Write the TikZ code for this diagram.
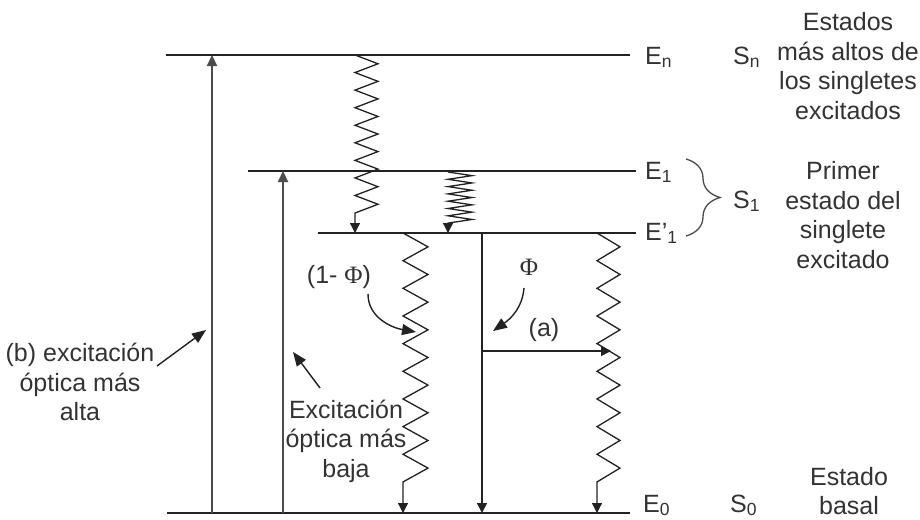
\documentclass[tikz,border=0pt]{standalone}
\usepackage{fontspec}
\setmainfont{Liberation Sans}
\newfontfamily\phifont{Liberation Serif}
\usetikzlibrary{arrows.meta,decorations.pathreplacing}
\definecolor{lc}{HTML}{222222}
\definecolor{tc}{HTML}{333333}
\newcommand{\myphi}{{\phifont\fontsize{25}{25}\selectfont Φ}}
\begin{document}
\begin{tikzpicture}[x=1pt,y=-1pt,
  level/.style={line width=1.8pt, draw=lc},
  exc/.style={line width=2.2pt, draw=black!70, -{Triangle[length=11pt,width=10pt]}},
  zz/.style={line width=1.3pt, draw=lc, -{Triangle[length=10pt,width=10pt]}},
  drop/.style={line width=1.6pt, draw=lc, -{Triangle[length=10pt,width=10pt]}},
  lbl/.style={font=\fontsize{25}{29.5}\selectfont, text=tc, inner sep=0pt, align=center},
  elbl/.style={font=\fontsize{25}{29.5}\selectfont, text=tc, inner sep=0pt, anchor=base west},
  ptr/.style={line width=1.4pt, draw=lc, -{Triangle[length=14pt,width=11pt]}},
  philbl/.style={text=tc, inner sep=0pt},
]
\path[use as bounding box, fill=white] (0,0) rectangle (920,519);

% energy levels
\coordinate (EnL) at (166,55);  \coordinate (EnR) at (630,55);
\coordinate (E1L) at (248,171); \coordinate (E1R) at (636,171);
\coordinate (EpL) at (318,233); \coordinate (EpR) at (636,233);
\coordinate (E0L) at (167,513); \coordinate (E0R) at (630,513);
\draw[level] (EnL) -- (EnR);
\draw[level] (E1L) -- (E1R);
\draw[level] (EpL) -- (EpR);
\draw[level] (E0L) -- (E0R);

% excitation arrows
\coordinate (bA) at (212,513); \coordinate (bB) at (212,55);
\coordinate (lA) at (283,513); \coordinate (lB) at (283,171);
\draw[exc] (bA) -- (bB);
\draw[exc] (lA) -- (lB);

% zigzags (non-radiative)
\draw[zz] (355,55) \foreach \i in {1,...,9} { -- ++(23,8.78) -- ++(-23,8.78) } -- (355,233);
\draw[zz] (448,172) \foreach \i in {1,...,7} { -- ++(24,3.65) -- ++(-24,3.65) } -- (448,233);
\draw[zz] (403,233) \foreach \i in {1,...,9} { -- ++(25,13.83) -- ++(-25,13.83) } -- (403,513);
\draw[zz] (597,233) \foreach \i in {1,...,9} { -- ++(23,13.83) -- ++(-23,13.83) } -- (597,513);

% fluorescence and intersystem
\coordinate (fA) at (482,233); \coordinate (fB) at (482,513);
\coordinate (hA) at (482,351); \coordinate (hB) at (611,351);
\draw[drop] (fA) -- (fB);
\draw[drop] (hA) -- (hB);

% level labels
\node[elbl] (En) at (645,64) {E\textsubscript{n}};
\node[elbl] (Sn) at (733,64) {S\textsubscript{n}};
\node[elbl] (E1) at (645,179) {E\textsubscript{1}};
\node[elbl] (Ep) at (645,240) {E'\textsubscript{1}};
\node[elbl] (S1) at (733,208) {S\textsubscript{1}};
\node[elbl] (E0) at (643,512) {E\textsubscript{0}};
\node[elbl] (S0) at (730,512) {S\textsubscript{0}};
\draw[line width=1.3pt, draw=black!70, decorate, decoration={brace, amplitude=34pt, aspect=0.5}] (686,159) -- (686,236);

% descriptive texts
\node[lbl] (tn) at (848,66) {Estados\\más altos de\\los singletes\\excitados};
\node[lbl] (t1) at (843,215) {Primer\\estado del\\singlete\\excitado};
\node[lbl] (t0) at (849,491) {Estado\\basal};
\node[lbl] (tb) at (80,382) {(b) excitación\\óptica más\\alta};
\node[lbl] (tl) at (346,441) {Excitación\\óptica más\\baja};
\node[lbl] (tphi1) at (339,277) {(1- \myphi)};
\node[philbl] (tphi) at (529,267) {\myphi};
\node[lbl] (ta) at (544,330) {(a)};

% pointers
\coordinate (pb1) at (157,366); \coordinate (pb2) at (206,330);
\draw[ptr] (pb1) -- (pb2);
\coordinate (pl1) at (320,388); \coordinate (pl2) at (293,352);
\draw[ptr] (pl1) -- (pl2);
\coordinate (pc1) at (368,294); \coordinate (pc2) at (416,332);
\draw[ptr] (pc1) to[out=-90,in=170] (pc2);
\coordinate (pd1) at (524,288); \coordinate (pd2) at (493,331);
\draw[ptr] (pd1) to[out=-95,in=35] (pd2);
\end{tikzpicture}
\end{document}
